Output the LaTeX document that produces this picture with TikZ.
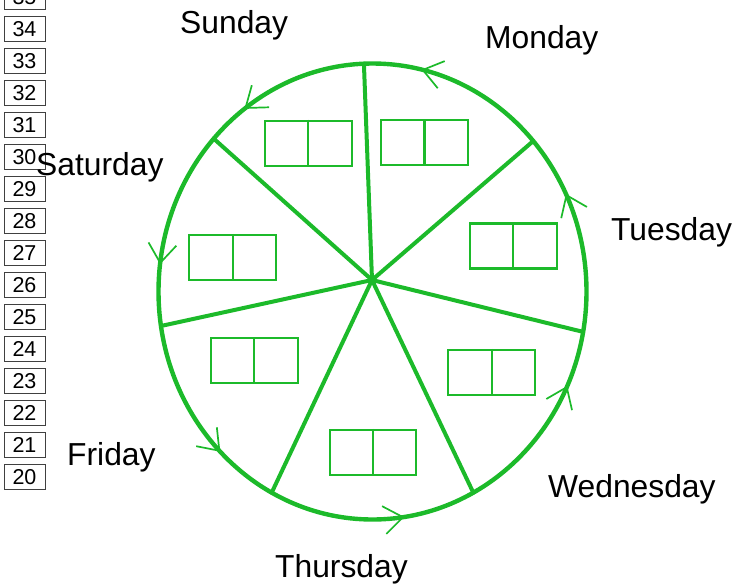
\documentclass[tikz,border=0pt]{standalone}
\usepackage{fontspec}
\setmainfont{Liberation Sans}
\usetikzlibrary{calc}
\definecolor{grn}{RGB}{28,186,42}
\begin{document}
\begin{tikzpicture}[x=1pt,y=-1pt,
  ring/.style={draw=grn,line width=4.4pt},
  spoke/.style={draw=grn,line width=4pt,line cap=round},
  dbox/.style={draw=grn,line width=2.2pt,minimum width=86.7pt,minimum height=45pt,inner sep=0pt},
  divider/.style={draw=grn,line width=2.2pt},
  numbox/.style={draw=black!75,line width=0.9pt,minimum width=41pt,minimum height=25pt,inner sep=0pt,font=\fontsize{21.5}{21.5}\selectfont},
  daylabel/.style={anchor=base west,inner sep=0pt,font=\fontsize{31.8}{31.8}\selectfont},
  wing/.style={draw=grn,line width=1.7pt}]
\clip (0,0) rectangle (736,584);
\useasboundingbox (0,0) rectangle (736,584);
% ring
\coordinate (c) at (372.5,291.5);
\coordinate (hub) at (372,280);
\draw[ring] (c) ellipse [x radius=214pt, y radius=228pt];
% spokes
\foreach \a/\n in {92.3/p1,41.3/p2,-10.2/p3,-61.9/p4,241.9/p5,188.7/p6,137.9/p7}
  \coordinate (\n) at ($(c)+(\a:214pt and 228pt)$);
\foreach \n in {p1,p2,p3,p4,p5,p6,p7}
  \draw[spoke] (hub) -- (\n);
% direction marks
\foreach \t/\p in {25/113.6,76.4/165.5,126.4/218.1,172.8/263.2,224.3/312.5,278.2/8.7,335.2/66.5}
  \draw[wing,shift={($(c)+(\t:214pt and 228pt)$)},rotate=\p] (-19pt,14pt) -- (0pt,0pt) -- (-19pt,-14pt);
% double boxes
\foreach \nm/\x/\y in {sun/308.3/143.3,mon/424.5/142.7,tue/513.3/246,wed/491.7/372.5,thu/373/452.5,fri/254.3/360.8,sat/232.7/257.5}{
  \node[dbox] (\nm box) at (\x,\y) {};
  \draw[divider] (\nm box.north) -- (\nm box.south);
}
% number boxes
\foreach \n in {20,...,35}
  \node[numbox] (n\n) at (24.5,{477-(\n-20)*32}) {\n};
% day labels
\node[daylabel] (sunday) at (180,33.5) {Sunday};
\node[daylabel] (monday) at (485,48) {Monday};
\node[daylabel] (tuesday) at (611,240) {Tuesday};
\node[daylabel] (wednesday) at (548,497) {Wednesday};
\node[daylabel] (thursday) at (275,577) {Thursday};
\node[daylabel] (friday) at (67,465) {Friday};
\node[daylabel] (saturday) at (36,175) {Saturday};
\end{tikzpicture}
\end{document}
